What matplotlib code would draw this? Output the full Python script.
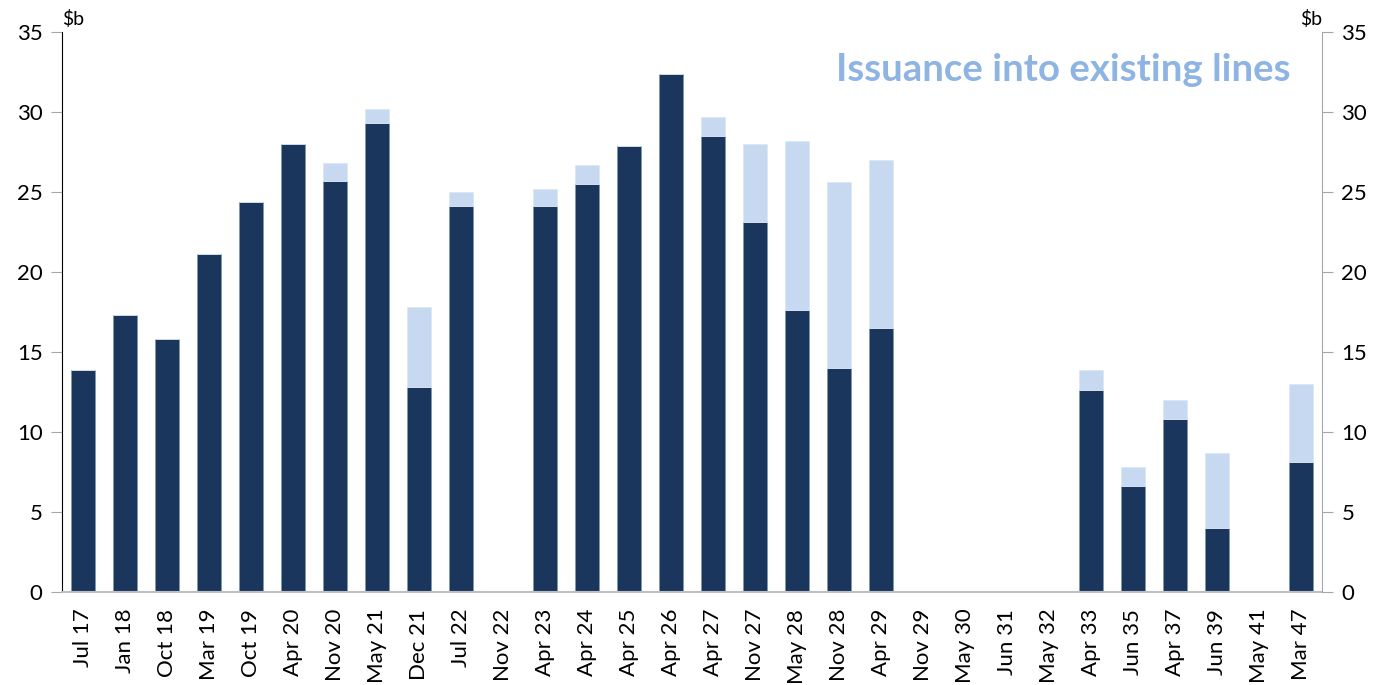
import numpy as np
import matplotlib
matplotlib.use('Agg')
import matplotlib.pyplot as plt

plt.rcParams['font.family'] = ['Lato', 'DejaVu Sans']

# bond lines (maturity) and amounts outstanding, $b
lines = ['Jul 17', 'Jan 18', 'Oct 18', 'Mar 19', 'Oct 19', 'Apr 20', 'Nov 20', 'May 21',
         'Dec 21', 'Jul 22', 'Nov 22', 'Apr 23', 'Apr 24', 'Apr 25', 'Apr 26', 'Apr 27',
         'Nov 27', 'May 28', 'Nov 28', 'Apr 29', 'Nov 29', 'May 30', 'Jun 31', 'May 32',
         'Apr 33', 'Jun 35', 'Apr 37', 'Jun 39', 'May 41', 'Mar 47']
existing = [13.9, 17.3, 15.8, 21.1, 24.4, 28.0, 25.7, 29.3,
            12.8, 24.1, 0.0, 24.1, 25.5, 27.9, 32.4, 28.5,
            23.1, 17.6, 14.0, 16.5, 0.0, 0.0, 0.0, 0.0,
            12.6, 6.6, 10.8, 4.0, 0.0, 8.1]
total = [13.9, 17.3, 15.8, 21.1, 24.4, 28.0, 26.8, 30.2,
         17.8, 25.0, 0.0, 25.2, 26.7, 27.9, 32.4, 29.7,
         28.0, 28.2, 25.6, 27.0, 0.0, 0.0, 0.0, 0.0,
         13.9, 7.8, 12.0, 8.7, 0.0, 13.0]
issuance = [t - e for t, e in zip(total, existing)]

dark = '#1A365D'
light = '#C6D9F1'
grey = '#A6A6A6'

fig = plt.figure(figsize=(13.79, 6.85), dpi=100)
ax = fig.add_axes([62 / 1379, 93 / 685, 1260 / 1379, 560 / 685])

x = np.arange(len(lines))
ax.bar(x, existing, width=0.56, color=dark, edgecolor='#8096B0', linewidth=0.6)
ax.bar(x, issuance, bottom=existing, width=0.56, color=light, edgecolor='#DDE8F6', linewidth=0.6)

ax.set_xlim(-0.5, len(lines) - 0.5)
ax.set_ylim(0, 35)
ax.set_yticks(range(0, 36, 5))
ax.set_xticks(x)
ax.set_xticklabels(lines, rotation=90, fontsize=16)
ax.tick_params(axis='x', length=0, pad=12)
ax.tick_params(axis='y', labelsize=16, length=8, color=grey, pad=6)

ax.spines['top'].set_visible(False)
ax.spines['right'].set_visible(False)
ax.spines['left'].set_color('black')
ax.spines['bottom'].set_color('#BFBFBF')
ax.spines['bottom'].set_linewidth(1.5)

ax2 = ax.twinx()
ax2.set_ylim(0, 35)
ax2.set_yticks(range(0, 36, 5))
ax2.tick_params(axis='y', labelsize=16, length=8, color=grey, pad=6)
for s in ['top', 'left', 'bottom']:
    ax2.spines[s].set_visible(False)
ax2.spines['right'].set_color(grey)

ax.text(0, 1.007, '$b', transform=ax.transAxes, ha='left', va='bottom', fontsize=14)
ax.text(1, 1.007, '$b', transform=ax.transAxes, ha='right', va='bottom', fontsize=14)

ax.text(0.975, 0.962, 'Issuance into existing lines', transform=ax.transAxes,
        ha='right', va='top', fontsize=27.6, fontweight='bold', color='#8DB4E2')

fig.savefig('out.png', dpi=100)
